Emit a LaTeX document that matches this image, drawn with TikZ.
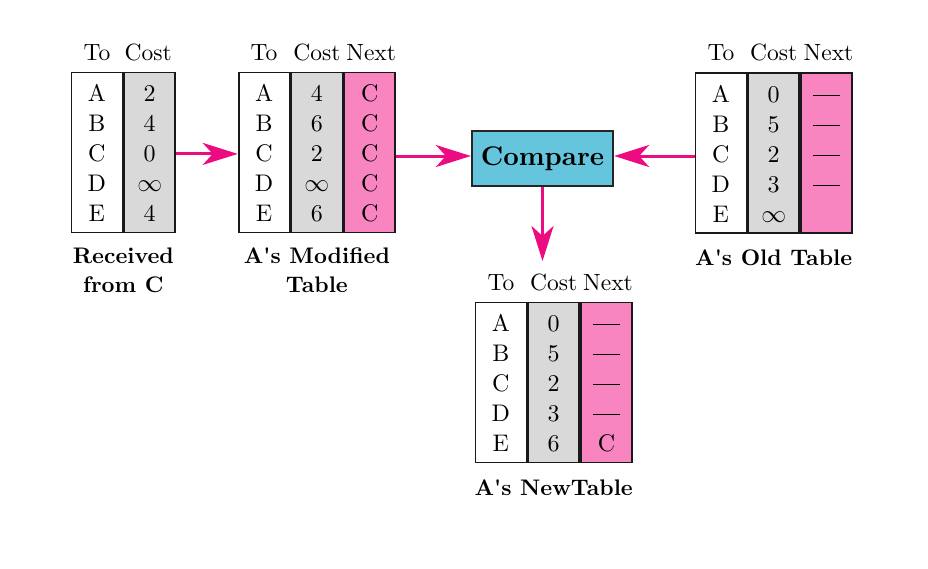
\documentclass[tikz,border=0pt]{standalone}
\usepackage{fontspec}
\setmainfont{lmroman10-regular}[Extension=.otf,BoldFont=lmroman10-bold]
\usetikzlibrary{arrows.meta,calc}
\definecolor{pinkfill}{HTML}{F884C0}
\definecolor{grayfill}{HTML}{D9D9D9}
\definecolor{arrowpink}{HTML}{EC0B80}
\definecolor{cyanfill}{HTML}{64C5DD}
\newcommand{\tabcells}[5]{\raisebox{-3.5pt}[\height][\depth]{\begin{tabular}{@{}c@{}}#1\\#2\\#3\\#4\\#5\end{tabular}}}
\newcommand{\nxtdash}{\rule[6.5pt]{27pt}{1.3pt}}
\newcommand{\infsym}{$\infty$}
\begin{document}
\begin{tikzpicture}[x=1pt,y=-1pt,
  col/.style={draw=black!90,line width=1.8pt,minimum width=51pt,minimum height=160pt,
    inner sep=0pt,anchor=north west,font=\fontsize{24}{30}\selectfont},
  tocol/.style={col,fill=white},
  costcol/.style={col,fill=grayfill},
  nextcol/.style={col,fill=pinkfill},
  head/.style={font=\fontsize{23.5}{28}\selectfont,inner sep=0pt,anchor=base},
  lab/.style={font=\bfseries\fontsize{22.5}{28.5}\selectfont,align=center,inner sep=0pt,anchor=north},
  arr/.style={draw=arrowpink,line width=3pt,-{Stealth[length=35pt,width=22pt,inset=10pt]}},
  cmpbox/.style={draw=black!85,line width=1.8pt,fill=cyanfill,minimum width=141.5pt,
    minimum height=54.5pt,inner sep=0pt,font=\bfseries\fontsize{27}{30}\selectfont}]
\useasboundingbox[fill=white] (0,0) rectangle (928,568);

% Table 1: Received from C
\node[tocol] (t1to) at (70.5,71.5) {\tabcells{A}{B}{C}{D}{E}};
\node[costcol] (t1cost) at (t1to.north east) {\tabcells{2}{4}{0}{\infsym}{4}};
\node[head] (h1to) at ([yshift=11.5pt]t1to.north) {To};
\node[head] (h1cost) at ([yshift=11.5pt,xshift=-1.5pt]t1cost.north) {Cost};
\node[lab] (l1) at ($(t1to.south west)!0.5!(t1cost.south east)+(0,14.5)$) {Received\\from C};

% Table 2: A's Modified Table
\node[tocol] (t2to) at (237.7,71.5) {\tabcells{A}{B}{C}{D}{E}};
\node[costcol] (t2cost) at (t2to.north east) {\tabcells{4}{6}{2}{\infsym}{6}};
\node[nextcol] (t2next) at (t2cost.north east) {\tabcells{C}{C}{C}{C}{C}};
\node[head] (h2to) at ([yshift=11.5pt]t2to.north) {To};
\node[head] (h2cost) at ([yshift=11.5pt]t2cost.north) {Cost};
\node[head] (h2next) at ([yshift=11.5pt,xshift=1.5pt]t2next.north) {Next};
\node[lab] (l2) at ($(t2to.south west)!0.5!(t2next.south east)+(0,14.5)$) {A\textquotesingle s Modified\\Table};

% Compare
\node[cmpbox] (cmp) at (542.5,158.4) {Compare};

% Table 3: A's Old Table
\node[tocol] (t3to) at (694.5,72) {\tabcells{A}{B}{C}{D}{E}};
\node[costcol] (t3cost) at (t3to.north east) {\tabcells{0}{5}{2}{3}{\infsym}};
\node[nextcol] (t3next) at (t3cost.north east) {\tabcells{\nxtdash}{\nxtdash}{\nxtdash}{\nxtdash}{\mbox{}}};
\node[head] (h3to) at ([yshift=11.5pt]t3to.north) {To};
\node[head] (h3cost) at ([yshift=11.5pt]t3cost.north) {Cost};
\node[head] (h3next) at ([yshift=11.5pt,xshift=2pt]t3next.north) {Next};
\node[lab] (l3) at ($(t3to.south west)!0.5!(t3next.south east)+(0,15.5)$) {A\textquotesingle s Old Table};

% Table 4: A's New Table
\node[tocol] (t4to) at (474.5,301.5) {\tabcells{A}{B}{C}{D}{E}};
\node[costcol] (t4cost) at (t4to.north east) {\tabcells{0}{5}{2}{3}{6}};
\node[nextcol] (t4next) at (t4cost.north east) {\tabcells{\nxtdash}{\nxtdash}{\nxtdash}{\nxtdash}{C}};
\node[head] (h4to) at ([yshift=11.5pt]t4to.north) {To};
\node[head] (h4cost) at ([yshift=11.5pt]t4cost.north) {Cost};
\node[head] (h4next) at ([yshift=11.5pt,xshift=1.5pt]t4next.north) {Next};
\node[lab] (l4) at ($(t4to.south west)!0.5!(t4next.south east)+(0,16.5)$) {A\textquotesingle s NewTable};

% Connectors
\coordinate (cmpin) at ([yshift=2.4pt]cmp.west);
\coordinate (cmpout) at ([yshift=2.4pt]cmp.east);
\coordinate (newhead) at (cmp.south |- 0,261);
\draw[arr] ([yshift=-1.5pt]t1cost.east) -- ([yshift=-1.5pt]t2to.west);
\draw[arr] (t2next.east |- cmpin) -- (cmpin);
\draw[arr] (t3to.west |- cmpout) -- (cmpout);
\draw[arr] (cmp.south) -- (newhead);
\end{tikzpicture}
\end{document}
